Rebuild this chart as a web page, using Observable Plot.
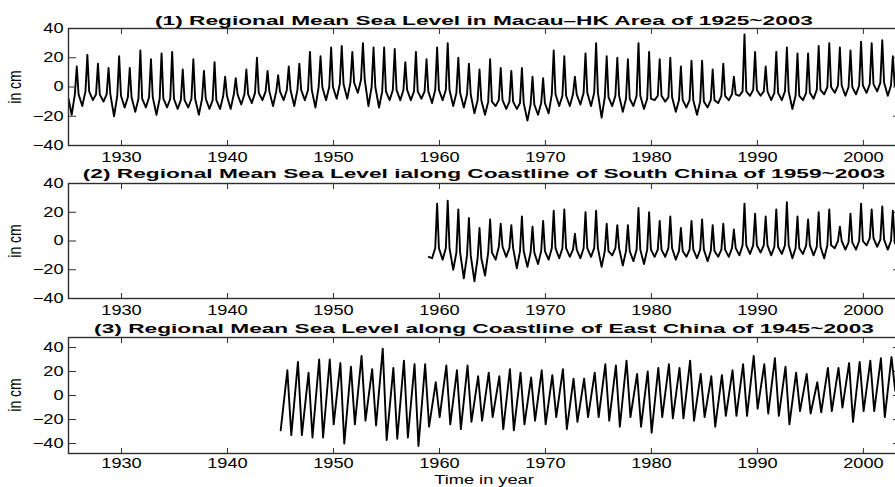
<!DOCTYPE html>
<html><head><meta charset="utf-8">
<script src="https://cdn.jsdelivr.net/npm/d3@7"></script>
<script src="https://cdn.jsdelivr.net/npm/@observablehq/plot@0.6"></script>
<style>
html,body{margin:0;padding:0;background:#fff;overflow:hidden;}
#chart{position:relative;width:895px;height:487px;overflow:hidden;background:#fff;}
#chart svg{position:absolute;left:0;}
.ttl{position:absolute;left:484px;font:bold 13px "Liberation Sans",Arial,sans-serif;white-space:nowrap;color:#000;line-height:13px;}
.lab{position:absolute;font:14px "Liberation Sans",Arial,sans-serif;white-space:nowrap;color:#000;line-height:11px;}
</style></head><body><div id="chart"></div>
<script>
// ---------- data (cm): yearly peak, trough and between-spike level ----------
const xTicks = [1930, 1940, 1950, 1960, 1970, 1980, 1990, 2000];
const yTicks = [-40, -20, 0, 20, 40];
const titles = [
  "(1) Regional Mean Sea Level in Macau\u2013HK Area of 1925~2003",
  "(2) Regional Mean Sea Level ialong Coastline of South China of 1959~2003",
  "(3) Regional Mean Sea Level along Coastline of East China of 1945~2003"
];

// Panel 1: Macau-HK, 1925-2002
const p1Start = 1925;
const p1Peaks = [14,22,16,13,21,13,25,19,23,24, 12,19,11,17,7,6,12,20,11,8,
  14,16,24,21,27,28,24,30,27,27, 26,17,24,19,27,30,20,16,12,19,
  13,11,13,7,6,25,21,7,23,30, 21,20,19,30,24,19,20,14,18,18,
  12,16,7,36,24,14,24,27,23,23, 28,30,27,25,31,30,32,21];
const p1Troughs = [-19,-13,-9,-10,-20,-14,-17,-14,-19,-14, -15,-14,-19,-15,-15,-15,-12,-11,-9,-13,
  -9,-13,-9,-14,-9,-8,-8,-4,-13,-14, -9,-9,-9,-8,-11,-9,-13,-14,-18,-19,
  -13,-15,-15,-23,-19,-18,-13,-13,-12,-13, -21,-13,-17,-13,-15,-9,-10,-17,-14,-19,
  -14,-11,-9,-6,-6,-6,-9,-9,-15,-9, -8,-5,-4,-6,-5,-4,-3,-6];
const p1Base = [-5,-3,-5,-5,-6,-7,-8,-7,-8,-8, -9,-8,-8,-9,-6,-5,-5,-4,-3,-3,
  -2,-2,-2,0,0,2,3,5,0,-3, -2,-2,-3,-3,-2,-2,-4,-5,-9,-10,
  -9,-10,-11,-12,-11,-5,-6,-5,-4,-4, -7,-6,-8,-6,-8,-6,-7,-9,-9,-10,
  -9,-6,-5,-3,-2,-3,-4,-3,-6,-4, -2,0,1,0,1,2,3,1];
const p1First = -8, p1Last = 5;

// Panel 2: South China, 1959-2002
const p2Start = 1959;
const p2Peaks = [26,28,22,16,9,15,12,11,17,10, 14,21,22,5,20,21,12,11,11,23,
  20,14,17,9,14,15,11,12,8,26, 19,17,22,27,17,15,20,22,10,19, 26,22,24,21];
const p2Troughs = [-12,-13,-20,-26,-28,-24,-13,-11,-19,-18, -16,-13,-12,-11,-12,-11,-18,-10,-17,-14,
  -16,-11,-11,-13,-11,-12,-14,-11,-11,-10, -9,-8,-10,-9,-12,-9,-10,-12,-5,-6, -6,-3,-4,-6];
const p2Base = [-5,-5,-8,-10,-12,-8,-4,-5,-7,-8, -7,-5,-5,-6,-5,-5,-7,-5,-7,-6,
  -6,-6,-5,-7,-6,-6,-7,-6,-5,-3, -3,-3,-4,-3,-5,-3,-4,-3,0,-1, 0,2,1,0];
const p2First = -11, p2Last = -2;

// Panel 3: East China, 1945-2002
const p3Start = 1945;
const p3Peaks = [21,28,19,30,30,27,24,33,22,39, 23,29,26,26,11,25,21,25,16,19,
  16,22,19,15,21,17,22,14,14,19, 26,25,29,18,20,23,26,23,29,18,
  16,17,21,26,33,26,31,24,19,18, 11,23,23,27,28,29,31,32];
const p3Troughs = [-29,-33,-33,-35,-35,-24,-40,-24,-21,-25, -37,-36,-35,-42,-26,-18,-24,-28,-22,-21,
  -18,-28,-29,-24,-21,-24,-18,-28,-22,-18, -18,-21,-26,-18,-26,-31,-18,-19,-19,-21,
  -18,-26,-17,-17,-17,-11,-15,-17,-24,-13, -15,-14,-13,-10,-22,-13,-13,-18];
const p3Last = 4;

// ---------- build tables ----------
function spiky(start, troughs, peaks, base, first, last) {
  const pts = [{t: start, v: first}];
  troughs.forEach((v, i) => {
    pts.push({t: start + i + 0.3, v});
    pts.push({t: start + i + 0.6, v: base[i]});
    pts.push({t: start + i + 0.78, v: peaks[i]});
    pts.push({t: start + i + 0.95, v: base[i]});
  });
  pts.push({t: start + troughs.length, v: last});
  return pts;
}
function wave(start, troughs, peaks, last) {
  const pts = [];
  troughs.forEach((v, i) => {
    pts.push({t: start + i + 0.02, v});
    pts.push({t: start + i + 0.65, v: peaks[i]});
  });
  pts.push({t: start + troughs.length, v: last});
  return pts;
}
const d1 = spiky(p1Start, p1Troughs, p1Peaks, p1Base, p1First, p1Last);
const d2 = spiky(p2Start, p2Troughs, p2Peaks, p2Base, p2First, p2Last);
const d3s = wave(p3Start, p3Troughs, p3Peaks, p3Last);

const xDomain = [1925, 2003.5];
const chart = document.getElementById("chart");
const ink = "#2e2e2e";

function panel(data, top, frameH, mb, yDomain, pad) {
  const svg = Plot.plot({
    width: 901, height: 2 + frameH + mb,
    marginTop: 2, marginBottom: mb, marginLeft: 68, marginRight: 1,
    x: {domain: xDomain, axis: null},
    y: {domain: yDomain, axis: null},
    style: {fontFamily: '"Liberation Sans", Arial, sans-serif', fontSize: "14px", color: "#000",
            background: "transparent", maxWidth: "none", overflow: "visible"},
    marks: [
      Plot.line(data, {x: "t", y: "v", stroke: "#000", strokeWidth: 1.9, clip: true}),
      Plot.frame({stroke: ink, strokeWidth: 1.4}),
      Plot.axisX({anchor: "bottom", ticks: xTicks, tickSize: -5, tickPadding: pad, tickFormat: "d", label: null, stroke: ink, fill: "#000"}),
      Plot.axisX({anchor: "top", ticks: xTicks, tickSize: -5, tickFormat: () => "", label: null, stroke: ink}),
      Plot.axisY({anchor: "left", ticks: yTicks, tickSize: -8, tickPadding: 13, tickFormat: d3.format("d"), label: null, stroke: ink, fill: "#000"}),
      Plot.axisY({anchor: "right", ticks: yTicks, tickSize: -8, tickFormat: () => "", label: null, stroke: ink})
    ]
  });
  svg.style.top = top + "px";
  svg.querySelectorAll("text").forEach(t => {
    const tr = t.getAttribute("transform");
    if (tr && tr.includes("translate")) t.setAttribute("transform", tr + " scale(1.3,1)");
  });
  chart.appendChild(svg);
}
panel(d1, 26, 117, 20, [-40, 40], 12);
panel(d2, 181, 115, 20, [-40, 40], 12);
panel(d3s, 335, 116, 30, [-48.3, 48.3], 10);

// titles
const tops = [14, 167, 322];
const divs = titles.map((s, i) => {
  const d = document.createElement("div");
  d.className = "ttl"; d.textContent = s; d.style.top = tops[i] + "px";
  chart.appendChild(d); return d;
});
const k = 658 / divs[0].getBoundingClientRect().width;
divs.forEach(d => { d.style.transform = `translateX(-50%) scaleX(${k})`; });

// y labels
[86.5, 240.5, 395].forEach(cy => {
  const d = document.createElement("div");
  d.className = "lab"; d.textContent = "in cm";
  d.style.left = "15px"; d.style.top = cy + "px";
  d.style.transform = "translate(-50%,-50%) rotate(-90deg) scaleY(1.3)";
  chart.appendChild(d);
});
// x label
const xl = document.createElement("div");
xl.className = "lab"; xl.textContent = "Time in year";
xl.style.fontSize = "13px";
xl.style.left = "484px"; xl.style.top = "474px";
xl.style.transform = "translateX(-50%) scaleX(1.4)";
chart.appendChild(xl);
</script></body></html>
